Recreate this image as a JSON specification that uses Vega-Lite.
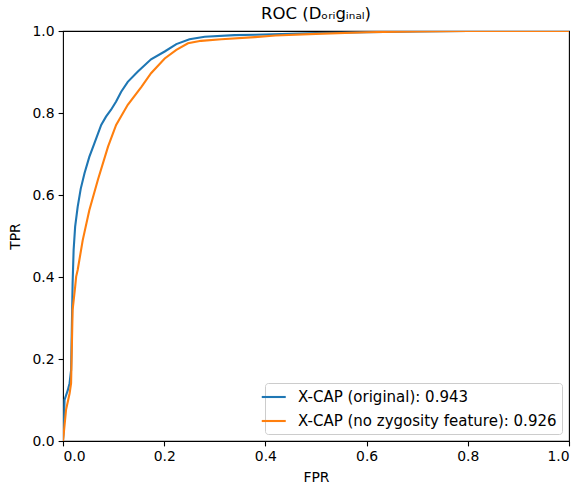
{
  "$schema": "https://vega.github.io/schema/vega-lite/v6.json",
  "autosize": {"type": "none"},
  "padding": {"left": 63, "top": 31, "right": 13, "bottom": 52},
  "width": 506,
  "height": 410,
  "title": {"text": "ROC (Dₒᵣᵢgᵢₙₐₗ)", "fontSize": 16.5, "fontWeight": "normal", "color": "black", "font": "DejaVu Sans", "offset": 2},
  "data": {"values": [
    {"model": "X-CAP (original): 0.943", "fpr": 0, "tpr": 0},
    {"model": "X-CAP (original): 0.943", "fpr": 0.0016, "tpr": 0.03},
    {"model": "X-CAP (original): 0.943", "fpr": 0.003, "tpr": 0.1},
    {"model": "X-CAP (original): 0.943", "fpr": 0.0095, "tpr": 0.124},
    {"model": "X-CAP (original): 0.943", "fpr": 0.013, "tpr": 0.141},
    {"model": "X-CAP (original): 0.943", "fpr": 0.016, "tpr": 0.173},
    {"model": "X-CAP (original): 0.943", "fpr": 0.019, "tpr": 0.385},
    {"model": "X-CAP (original): 0.943", "fpr": 0.021, "tpr": 0.466},
    {"model": "X-CAP (original): 0.943", "fpr": 0.024, "tpr": 0.523},
    {"model": "X-CAP (original): 0.943", "fpr": 0.029, "tpr": 0.571},
    {"model": "X-CAP (original): 0.943", "fpr": 0.035, "tpr": 0.615},
    {"model": "X-CAP (original): 0.943", "fpr": 0.0425, "tpr": 0.653},
    {"model": "X-CAP (original): 0.943", "fpr": 0.052, "tpr": 0.693},
    {"model": "X-CAP (original): 0.943", "fpr": 0.062, "tpr": 0.726},
    {"model": "X-CAP (original): 0.943", "fpr": 0.0755, "tpr": 0.771},
    {"model": "X-CAP (original): 0.943", "fpr": 0.085, "tpr": 0.791},
    {"model": "X-CAP (original): 0.943", "fpr": 0.095, "tpr": 0.808},
    {"model": "X-CAP (original): 0.943", "fpr": 0.105, "tpr": 0.828},
    {"model": "X-CAP (original): 0.943", "fpr": 0.115, "tpr": 0.852},
    {"model": "X-CAP (original): 0.943", "fpr": 0.128, "tpr": 0.876},
    {"model": "X-CAP (original): 0.943", "fpr": 0.148, "tpr": 0.901},
    {"model": "X-CAP (original): 0.943", "fpr": 0.174, "tpr": 0.931},
    {"model": "X-CAP (original): 0.943", "fpr": 0.201, "tpr": 0.95},
    {"model": "X-CAP (original): 0.943", "fpr": 0.224, "tpr": 0.968},
    {"model": "X-CAP (original): 0.943", "fpr": 0.25, "tpr": 0.98},
    {"model": "X-CAP (original): 0.943", "fpr": 0.28, "tpr": 0.986},
    {"model": "X-CAP (original): 0.943", "fpr": 0.339, "tpr": 0.99},
    {"model": "X-CAP (original): 0.943", "fpr": 0.379, "tpr": 0.991},
    {"model": "X-CAP (original): 0.943", "fpr": 0.45, "tpr": 0.993},
    {"model": "X-CAP (original): 0.943", "fpr": 0.5, "tpr": 0.995},
    {"model": "X-CAP (original): 0.943", "fpr": 0.6, "tpr": 0.997},
    {"model": "X-CAP (original): 0.943", "fpr": 0.7, "tpr": 0.999},
    {"model": "X-CAP (original): 0.943", "fpr": 0.8, "tpr": 1.0},
    {"model": "X-CAP (original): 0.943", "fpr": 1.0, "tpr": 1.0},
    {"model": "X-CAP (no zygosity feature): 0.926", "fpr": 0, "tpr": 0},
    {"model": "X-CAP (no zygosity feature): 0.926", "fpr": 0.0016, "tpr": 0.02},
    {"model": "X-CAP (no zygosity feature): 0.926", "fpr": 0.006, "tpr": 0.076},
    {"model": "X-CAP (no zygosity feature): 0.926", "fpr": 0.013, "tpr": 0.116},
    {"model": "X-CAP (no zygosity feature): 0.926", "fpr": 0.016, "tpr": 0.141},
    {"model": "X-CAP (no zygosity feature): 0.926", "fpr": 0.019, "tpr": 0.32},
    {"model": "X-CAP (no zygosity feature): 0.926", "fpr": 0.024, "tpr": 0.376},
    {"model": "X-CAP (no zygosity feature): 0.926", "fpr": 0.026, "tpr": 0.401},
    {"model": "X-CAP (no zygosity feature): 0.926", "fpr": 0.029, "tpr": 0.417},
    {"model": "X-CAP (no zygosity feature): 0.926", "fpr": 0.039, "tpr": 0.49},
    {"model": "X-CAP (no zygosity feature): 0.926", "fpr": 0.052, "tpr": 0.563},
    {"model": "X-CAP (no zygosity feature): 0.926", "fpr": 0.069, "tpr": 0.637},
    {"model": "X-CAP (no zygosity feature): 0.926", "fpr": 0.089, "tpr": 0.718},
    {"model": "X-CAP (no zygosity feature): 0.926", "fpr": 0.105, "tpr": 0.771},
    {"model": "X-CAP (no zygosity feature): 0.926", "fpr": 0.128, "tpr": 0.82},
    {"model": "X-CAP (no zygosity feature): 0.926", "fpr": 0.155, "tpr": 0.864},
    {"model": "X-CAP (no zygosity feature): 0.926", "fpr": 0.174, "tpr": 0.897},
    {"model": "X-CAP (no zygosity feature): 0.926", "fpr": 0.201, "tpr": 0.933},
    {"model": "X-CAP (no zygosity feature): 0.926", "fpr": 0.224, "tpr": 0.954},
    {"model": "X-CAP (no zygosity feature): 0.926", "fpr": 0.247, "tpr": 0.97},
    {"model": "X-CAP (no zygosity feature): 0.926", "fpr": 0.273, "tpr": 0.976},
    {"model": "X-CAP (no zygosity feature): 0.926", "fpr": 0.313, "tpr": 0.98},
    {"model": "X-CAP (no zygosity feature): 0.926", "fpr": 0.379, "tpr": 0.985},
    {"model": "X-CAP (no zygosity feature): 0.926", "fpr": 0.42, "tpr": 0.989},
    {"model": "X-CAP (no zygosity feature): 0.926", "fpr": 0.5, "tpr": 0.993},
    {"model": "X-CAP (no zygosity feature): 0.926", "fpr": 0.6, "tpr": 0.997},
    {"model": "X-CAP (no zygosity feature): 0.926", "fpr": 0.7, "tpr": 0.999},
    {"model": "X-CAP (no zygosity feature): 0.926", "fpr": 0.8, "tpr": 1.0},
    {"model": "X-CAP (no zygosity feature): 0.926", "fpr": 1.0, "tpr": 1.0}
  ]},
  "encoding": {
    "x": {"field": "fpr", "type": "quantitative", "title": "FPR",
      "scale": {"domain": [0, 1], "nice": false},
      "axis": {"values": [0, 0.2, 0.4, 0.6, 0.8, 1.0], "format": ".1f"}},
    "y": {"field": "tpr", "type": "quantitative", "title": "TPR",
      "scale": {"domain": [0, 1], "nice": false},
      "axis": {"values": [0, 0.2, 0.4, 0.6, 0.8, 1.0], "format": ".1f"}},
    "color": {"field": "model", "type": "nominal",
      "scale": {"domain": ["X-CAP (original): 0.943", "X-CAP (no zygosity feature): 0.926"], "range": ["#1f77b4", "#ff7f0e"]},
      "legend": {"title": null, "orient": "bottom-right"}},
    "order": {"field": "fpr", "type": "quantitative"}
  },
  "layer": [
    {"transform": [{"filter": "datum.model === 'X-CAP (original): 0.943'"}],
     "mark": {"type": "line", "strokeWidth": 2.1, "clip": true}},
    {"transform": [{"filter": "datum.model === 'X-CAP (no zygosity feature): 0.926'"}],
     "mark": {"type": "line", "strokeWidth": 2.1, "clip": true}}
  ],
  "config": {
    "font": "DejaVu Sans",
    "view": {"stroke": "black", "strokeWidth": 1.1},
    "axis": {
      "grid": false, "domain": false,
      "tickColor": "black", "tickSize": 4.9, "tickWidth": 1.1,
      "labelColor": "black", "labelFontSize": 13.9, "labelPadding": 4, "labelFont": "DejaVu Sans",
      "titleColor": "black", "titleFontSize": 13.9, "titleFontWeight": "normal", "titleFont": "DejaVu Sans"
    },
    "axisX": {"titlePadding": 7},
    "axisY": {"titlePadding": 10},
    "legend": {
      "offset": 7, "padding": 5, "strokeColor": "#cccccc", "fillColor": "white", "cornerRadius": 3,
      "symbolType": "M-2.3,0L0.9,0", "symbolSize": 225, "symbolStrokeWidth": 2.1, "symbolFillColor": "transparent",
      "labelFontSize": 15, "labelColor": "black", "labelFont": "DejaVu Sans", "labelLimit": 0,
      "rowPadding": 7, "labelOffset": 10
    }
  }
}
